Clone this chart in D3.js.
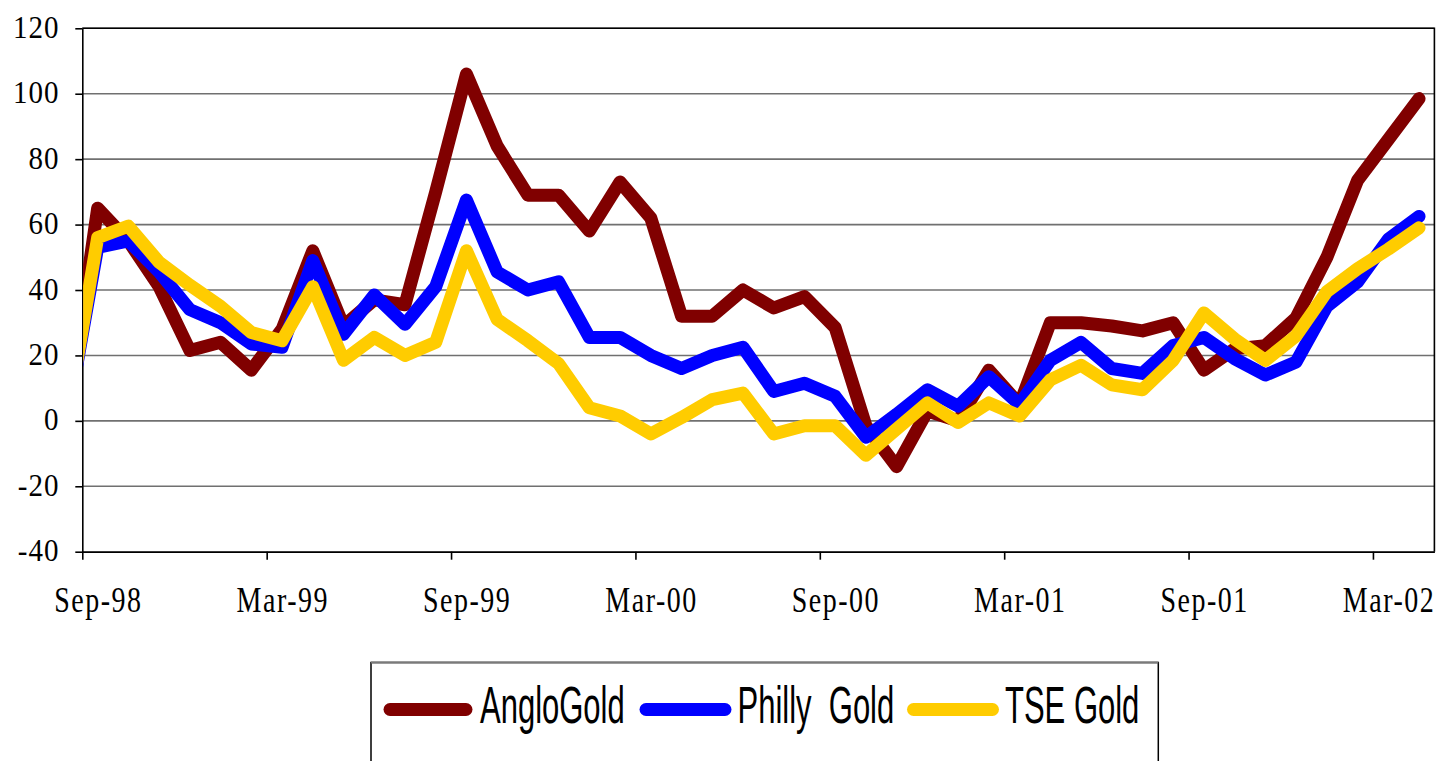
<!DOCTYPE html>
<html>
<head>
<meta charset="utf-8">
<script src="https://cdn.jsdelivr.net/npm/d3@7"></script>
<style>
  html, body { margin: 0; padding: 0; background: #fff; }
  svg { display: block; }
</style>
</head>
<body>
<div id="chart"></div>
<script>
// ---- Data (monthly % change; Aug-98 is the base month, just left of the plot area) ----
const categories = ["Aug-98","Sep-98","Oct-98","Nov-98","Dec-98","Jan-99","Feb-99","Mar-99","Apr-99","May-99","Jun-99","Jul-99","Aug-99",
  "Sep-99","Oct-99","Nov-99","Dec-99","Jan-00","Feb-00","Mar-00","Apr-00","May-00","Jun-00","Jul-00","Aug-00",
  "Sep-00","Oct-00","Nov-00","Dec-00","Jan-01","Feb-01","Mar-01","Apr-01","May-01","Jun-01","Jul-01","Aug-01",
  "Sep-01","Oct-01","Nov-01","Dec-01","Jan-02","Feb-02","Mar-02","Apr-02"];

const angloGold = [0, 65, 55, 41, 21.5, 24, 15.5, 28, 52, 29, 37, 35.5, 70,
  106, 84, 69, 69, 58, 73, 62, 32, 32, 40, 34.5, 38,
  28.5, -1.5, -14, 3, 0, 15.5, 5, 30, 30, 29, 27.5, 30,
  15.5, 22, 23, 31.5, 50, 73.5, 86, 98.5];

const phillyGold = [0, 53, 55, 45.5, 34, 30, 23.5, 22.5, 49, 26.5, 38.5, 29.5, 41,
  67.5, 45.5, 40, 42.5, 25.5, 25.5, 20, 16, 20, 22.5, 9, 11.5,
  7.5, -5, 2, 9.5, 4.5, 13.5, 5, 18.5, 24, 16, 14.5, 23,
  25.5, 19, 14, 18, 35, 42.5, 55.5, 62.5];

const tseGold = [0, 56, 59.5, 48.5, 41.5, 35, 27, 24.5, 41, 18.5, 25.5, 20, 24,
  52, 31, 24.5, 17.5, 4, 1.5, -4, 1, 6.5, 8.5, -4, -1.5,
  -1.5, -10.5, -2.5, 5.5, -0.5, 5.5, 1.5, 12.5, 17, 11, 9.5, 18.5,
  33, 25, 18.5, 26, 39.5, 46.5, 52.5, 59];

const seriesNames = ["AngloGold", "Philly  Gold", "TSE Gold"];
const seriesColors = ["#800000", "#0000FF", "#FFCC00"];
const yTickValues = [-40, -20, 0, 20, 40, 60, 80, 100, 120];
const xTickLabels = ["Sep-98","Mar-99","Sep-99","Mar-00","Sep-00","Mar-01","Sep-01","Mar-02"];

// ---- Layout ----
const W = 1441, H = 761;
const plot = { left: 82.3, right: 1434.4, top: 28.3, bottom: 551.7 };

const svg = d3.select("#chart").append("svg")
  .attr("width", W).attr("height", H)
  .attr("viewBox", `0 0 ${W} ${H}`);

// Category index scale: Sep-98 (index 1) is the first slot inside the plot area
const x = d3.scaleLinear()
  .domain([0.5, categories.length - 0.5])
  .range([plot.left, plot.right]);
const y = d3.scaleLinear()
  .domain([-40, 120])
  .range([plot.bottom, plot.top]);

// Gridlines
svg.append("g").selectAll("line")
  .data(yTickValues)
  .join("line")
  .attr("x1", plot.left).attr("x2", plot.right)
  .attr("y1", d => y(d)).attr("y2", d => y(d))
  .attr("stroke", "#707070").attr("stroke-width", 1.6);

// Y axis with ticks
const yAxis = svg.append("g")
  .attr("transform", `translate(${plot.left},0)`)
  .call(d3.axisLeft(y).tickValues(yTickValues).tickSize(7).tickSizeOuter(0).tickFormat(""));
yAxis.selectAll("path,line").attr("stroke", "#000").attr("stroke-width", 1.6);

svg.append("g").selectAll("text")
  .data(yTickValues)
  .join("text")
  .attr("transform", d => `translate(59.5,${y(d) + 9.5}) scale(1,1.1)`)
  .attr("text-anchor", "end")
  .attr("font-family", "'Liberation Serif', 'Times New Roman', serif")
  .attr("font-size", 29)
  .attr("letter-spacing", 1)
  .attr("fill", "#000")
  .text(d => d);

// X axis: tick marks between categories every 6 months
const labelIdx = xTickLabels.map(l => categories.indexOf(l));
const xAxis = svg.append("g")
  .attr("transform", `translate(0,${plot.bottom})`)
  .call(d3.axisBottom(x).tickValues(labelIdx.map(i => i - 0.5)).tickSize(8).tickSizeOuter(0).tickFormat(""));
xAxis.selectAll("path,line").attr("stroke", "#000").attr("stroke-width", 1.6);

svg.append("g").selectAll("text")
  .data(labelIdx)
  .join("text")
  .attr("transform", i => `translate(${x(i) + 0.75},612) scale(1,1.26)`)
  .attr("text-anchor", "middle")
  .attr("font-family", "'Liberation Serif', 'Times New Roman', serif")
  .attr("font-size", 28)
  .attr("letter-spacing", 1.5)
  .attr("fill", "#000")
  .text(i => categories[i]);

// Plot border (top & right)
svg.append("path")
  .attr("d", `M${plot.left},${plot.top}H${plot.right}V${plot.bottom}`)
  .attr("fill", "none").attr("stroke", "#000").attr("stroke-width", 1.6);

// Clip for lines
svg.append("clipPath").attr("id", "plotClip")
  .append("rect")
  .attr("x", plot.left + 0.8).attr("y", 0)
  .attr("width", plot.right - plot.left).attr("height", H);

const line = d3.line().x((d, i) => x(i)).y(d => y(d));
const allSeries = [angloGold, phillyGold, tseGold];

svg.append("g").attr("clip-path", "url(#plotClip)")
  .selectAll("path")
  .data(allSeries)
  .join("path")
  .attr("d", d => line(d))
  .attr("fill", "none")
  .attr("stroke", (d, i) => seriesColors[i])
  .attr("stroke-width", 13)
  .attr("stroke-linejoin", "round")
  .attr("stroke-linecap", "round");

// Legend
const lg = svg.append("g");
lg.append("path")
  .attr("d", `M371,${H + 5}V662.5H1158.3V${H + 5}`)
  .attr("fill", "none").attr("stroke", "#000").attr("stroke-width", 1.5);
lg.append("line")
  .attr("x1", 371).attr("x2", 1158.3).attr("y1", 662.5).attr("y2", 662.5)
  .attr("stroke", "#7a7a7a").attr("stroke-width", 1.8);

const legendSwatch = [[390, 466], [646, 725], [913.5, 992.5]];
const legendTextX = [480, 737.5, 1005];
seriesNames.forEach((name, i) => {
  lg.append("line")
    .attr("x1", legendSwatch[i][0]).attr("x2", legendSwatch[i][1])
    .attr("y1", 709.5).attr("y2", 709.5)
    .attr("stroke", seriesColors[i]).attr("stroke-width", 13)
    .attr("stroke-linecap", "round");
  lg.append("text")
    .attr("transform", `translate(${legendTextX[i]},723.3) scale(1,1.65)`)
    .attr("font-family", "'Liberation Sans', Arial, sans-serif")
    .attr("font-size", 31)
    .attr("fill", "#000")
    .style("white-space", "pre")
    .attr("xml:space", "preserve")
    .text(name);
});
</script>
</body>
</html>
